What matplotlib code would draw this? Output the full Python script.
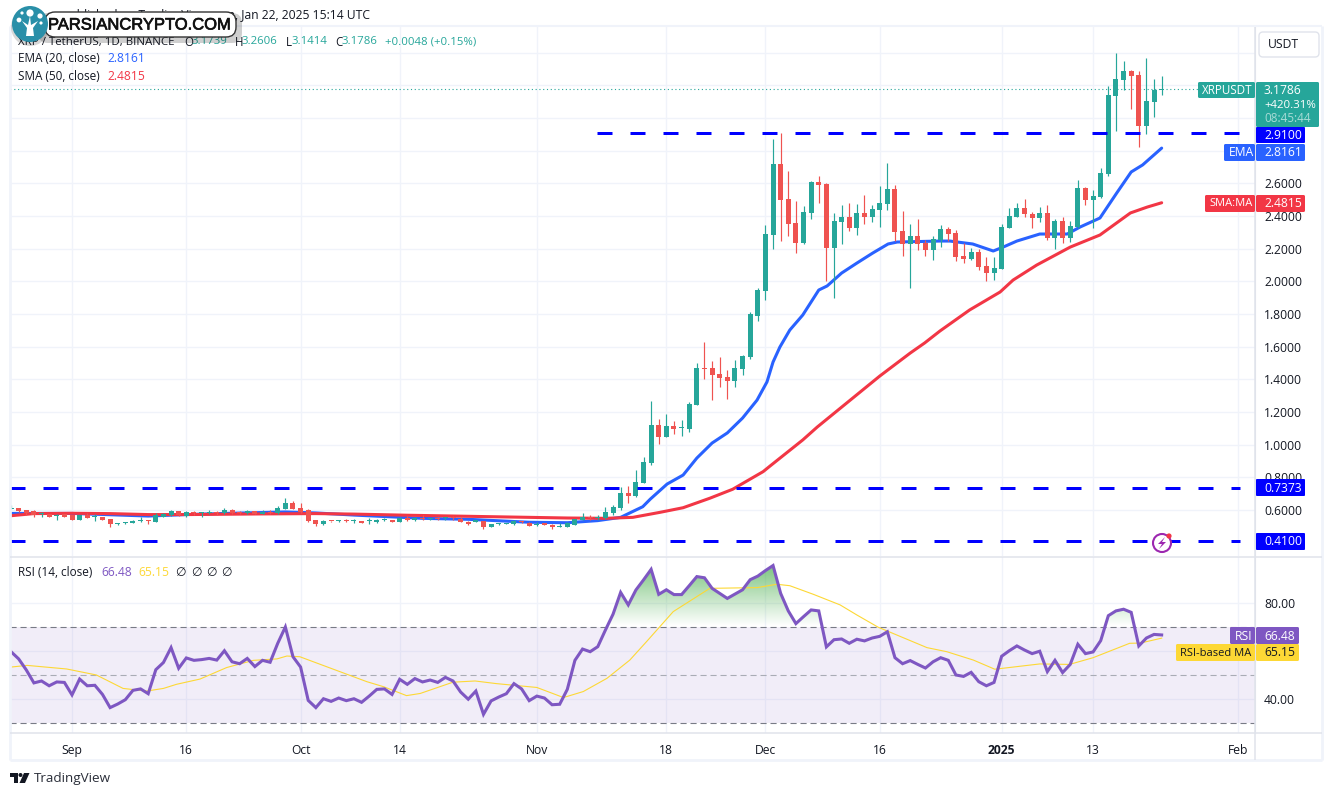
import numpy as np
import matplotlib
matplotlib.use("Agg")
import matplotlib.pyplot as plt
from matplotlib.patches import FancyBboxPatch, Circle, Polygon, Rectangle
from matplotlib.path import Path
import matplotlib.patheffects as pe

plt.rcParams['font.family'] = ['Open Sans', 'DejaVu Sans']

# ---------- data (day index 0 = 1 Sep 2024) ----------
first_day = -8
opens = [.608,.612,.60,.592,.575,.575,.565,.575,
 .567,.539,.567,.555,.56,.543,.514,.518,.52,.532,
 .536,.527,.557,.567,.592,.563,.588,.58,.58,.588,
 .58,.6,.588,.58,.594,.576,.586,.58,.606,.643,
 .612,.60,.539,.517,.532,.530,.532,.530,.532,.530,
 .527,.536,.539,.527,.551,.54,.551,.545,.547,.548,
 .552,.545,.527,.527,.533,.496,.514,.516,.514,.532,
 .52,.51,.514,.508,.498,.496,.508,.54,.557,.55,
 .551,.582,.612,.704,.686,.765,.888,1.12,1.047,1.114,
 1.10,1.096,1.243,1.47,1.47,1.433,1.414,1.39,1.463,1.537,
 1.79,1.94,2.284,2.72,2.505,2.357,2.235,2.419,2.608,2.596,
 2.204,2.363,2.394,2.327,2.419,2.394,2.437,2.474,2.566,2.308,
 2.229,2.278,2.235,2.192,2.253,2.32,2.296,2.155,2.137,2.18,
 2.094,2.051,2.076,2.327,2.394,2.449,2.412,2.388,2.419,2.265,
 2.37,2.265,2.333,2.571,2.498,2.517,2.658,3.135,3.233,3.288,
 3.264,2.951,3.098,3.1739]
closes = [.612,.592,.58,.567,.578,.555,.568,.56,
 .539,.567,.551,.558,.539,.514,.518,.522,.533,.536,
 .53,.57,.575,.592,.567,.588,.58,.584,.588,.58,
 .60,.58,.58,.594,.576,.588,.58,.61,.643,.606,
 .588,.533,.514,.535,.530,.532,.530,.533,.522,.532,
 .539,.539,.527,.551,.539,.551,.545,.547,.545,.551,
 .55,.527,.516,.539,.496,.514,.516,.52,.532,.526,
 .502,.514,.511,.496,.502,.52,.545,.558,.55,.553,
 .588,.618,.704,.686,.771,.894,1.12,1.047,1.114,1.096,
 1.106,1.25,1.47,1.463,1.426,1.408,1.39,1.47,1.543,1.80,
 1.947,2.29,2.719,2.498,2.351,2.235,2.425,2.608,2.59,2.204,
 2.37,2.394,2.327,2.419,2.394,2.443,2.48,2.566,2.302,2.229,
 2.278,2.229,2.192,2.259,2.32,2.29,2.149,2.137,2.18,2.088,
 2.051,2.082,2.333,2.40,2.449,2.412,2.388,2.419,2.265,2.37,
 2.265,2.339,2.571,2.498,2.523,2.664,3.141,3.239,3.288,3.258,
 2.951,3.105,3.172,3.1786]
highs = [.632,.612,.60,.60,.59,.575,.578,.578,
 .57,.57,.58,.575,.56,.543,.52,.525,.54,.56,
 .537,.582,.58,.60,.593,.595,.595,.59,.60,.593,
 .615,.605,.595,.597,.596,.60,.60,.622,.675,.655,
 .64,.605,.54,.539,.533,.54,.545,.545,.532,.55,
 .545,.548,.54,.56,.565,.56,.57,.552,.558,.558,
 .565,.558,.53,.54,.533,.514,.52,.523,.537,.533,
 .526,.526,.52,.512,.52,.525,.546,.58,.57,.57,
 .618,.63,.741,.747,.845,.924,1.267,1.157,1.188,1.145,
 1.151,1.262,1.50,1.629,1.512,1.537,1.457,1.518,1.55,1.812,
 1.96,2.345,2.872,2.91,2.676,2.492,2.461,2.615,2.645,2.602,
 2.419,2.468,2.48,2.474,2.529,2.468,2.584,2.725,2.59,2.431,
 2.351,2.382,2.253,2.278,2.345,2.333,2.314,2.235,2.204,2.198,
 2.149,2.149,2.351,2.449,2.48,2.505,2.425,2.455,2.468,2.38,
 2.394,2.37,2.62,2.578,2.559,2.694,3.196,3.398,3.349,3.294,
 3.288,3.368,3.239,3.2606]
lows = [.605,.59,.57,.555,.56,.555,.54,.558,
 .539,.538,.55,.53,.538,.498,.51,.515,.518,.528,
 .515,.525,.555,.565,.566,.56,.57,.56,.575,.57,
 .578,.575,.575,.578,.575,.575,.575,.578,.605,.605,
 .58,.525,.50,.508,.529,.524,.527,.52,.52,.515,
 .522,.53,.525,.525,.533,.535,.54,.54,.54,.54,
 .54,.527,.506,.525,.484,.496,.51,.514,.51,.52,
 .50,.50,.508,.485,.495,.495,.507,.538,.54,.54,
 .545,.57,.60,.643,.68,.765,.876,1.004,1.047,1.065,
 1.053,1.078,1.243,1.402,1.273,1.353,1.28,1.353,1.426,1.525,
 1.76,1.886,2.198,2.247,2.278,2.174,2.229,2.382,2.48,2.0,
 1.898,2.229,2.308,2.284,2.351,2.363,2.333,2.437,2.247,2.155,
 1.959,2.192,2.155,2.131,2.21,2.247,2.125,2.112,2.131,2.07,
 2.0,2.008,2.076,2.327,2.394,2.394,2.327,2.363,2.253,2.198,
 2.235,2.241,2.327,2.468,2.327,2.511,2.645,2.921,3.172,3.055,
 2.822,2.902,3.006,3.1414]

ema_days = [-8,0,10,15,20,28,32,37,46,52,60,65,69,72,74,74.9,75.9,78.1,80.2,82,84,86,88,89.9,91.2,92,92.9,94.2,95.9,98,99.1,101,103,105.1,107.1,108.3,113.9,115.2,118.2,120.9,122.2,124,127,130.6,132.3,134.9,137.1,139,140.5,143]
ema_vals = [.579,.579,.563,.572,.579,.588,.582,.569,.549,.543,.525,.522,.535,.555,.60,.62,.667,.759,.814,.918,1.01,1.072,1.163,1.273,1.384,1.506,1.598,1.702,1.794,1.947,1.972,2.051,2.112,2.174,2.229,2.241,2.247,2.247,2.229,2.186,2.21,2.247,2.29,2.29,2.333,2.388,2.541,2.67,2.713,2.8161]
sma_days = [-8,-5,0,5,10,15,25,32,37,44,55,65,70,73.6,77.2,80.2,83.7,86.7,90.7,91.6,95.9,97.8,99.9,106,110,111.9,113.9,117.8,121.8,123.5,126.6,131,134.9,138.9,141.1,143]
sma_vals = [.565,.578,.58,.578,.572,.572,.576,.578,.575,.568,.559,.551,.549,.555,.586,.614,.672,.727,.835,.869,1.029,1.108,1.188,1.42,1.561,1.623,1.696,1.825,1.935,2.008,2.10,2.21,2.284,2.419,2.455,2.4815]

rsi_vals = [59.5,56.5,51.9,46.5,47.3,45.3,46.9,46.7,
 41.5,48.1,45.3,45.5,41.7,36.2,37.7,39.5,43.4,44,
 42,52,55,61.2,52.6,56.9,55.9,56.2,56.7,56,
 59.9,55.3,54.5,56.7,53.3,55.9,55.1,63,69.8,57.4,
 53.1,39.2,36.2,39.9,38.8,40.2,39.1,39.9,38.4,41,
 43.8,44,41.7,48,45.9,48.3,46.9,47.7,46.7,48.8,
 47.3,42.7,39.7,43.1,33.4,39,40.6,42,46.2,44,
 39.1,41,40.2,37.4,37.6,43.8,55.9,60.6,59.5,61.6,
 68.5,75.1,84.2,79,85.2,89.4,93.8,83.4,85.3,83.3,
 83.3,87,90.8,90.3,85.9,83.8,81.7,83.5,85.3,89.5,
 91,93.3,95.4,83.8,76.5,71.2,74.1,76.9,76.5,61.5,
 64.5,64.8,63,64.7,64,65.2,65.9,67.8,57,54.5,
 55.8,54.2,52.7,55.3,57,55.9,49.8,49.2,50.9,47,
 45.3,46.7,57.6,59.9,61.9,60.2,58.7,59.7,51.2,55.9,
 50.8,54.2,62.6,58.7,59.4,64.1,74.5,76.5,77.2,75.9,
 61.9,65.2,66.7,66.48]
rsima_days = [-8,-5.9,-.7,3.2,6.7,9.8,12,13.7,16.8,20.3,23.8,26.9,28.2,29.9,34.3,38.7,40.9,43.9,45.7,50,52.9,55.7,61,64.5,67.1,70.2,73.2,75.4,78.9,83.7,89.9,92.5,94.2,97.3,100.8,103,105.8,112.2,114.8,118.3,121.1,127,130.9,134,138.8,140.2,143]
rsima_vals = [53.1,53.8,52.3,49.8,44.2,43.1,44.2,45.9,48.1,52.9,55.9,56.5,57.7,57.4,52.2,47,44.9,41.2,42.1,46.8,47.3,46.2,44.6,40.4,42.9,48.4,56,63.7,76.2,85.9,86.2,87.6,87,83.4,79,74.8,69.7,61.2,59.5,56,52.2,54.4,54.2,57,63,63.1,65.15]

level_top = 2.91
level_mid = 0.7373
level_low = 0.41
last_price = 3.1786
price_ticks = [0.6,0.8,1.0,1.2,1.4,1.6,1.8,2.0,2.2,2.4,2.6,2.8,3.0,3.2,3.4]
price_labels = ['0.6000','0.8000','1.0000','1.2000','1.4000','1.6000','1.8000','2.0000','2.2000','2.4000','2.6000','','','','']
rsi_ticks = [40,60,80]
rsi_labels = ['40.00','','80.00']
time_days = [0,15,30,43,61,78,91,106,122,134,153]
time_labels = ['Sep','16','Oct','14','Nov','18','Dec','16','2025','13','Feb']

# ---------- layout ----------
W, H = 1333, 796
GREEN, RED = '#26a69a', '#ef5350'
BLUE, SMA_RED = '#2962ff', '#f23645'
PURPLE, YELLOW = '#7e57c2', '#fdd835'
GRID, BORDER, TXT = '#f0f3fa', '#e0e3eb', '#131722'
fig = plt.figure(figsize=(W/100, H/100), dpi=100, facecolor='white')

def add_px(x0, y0, x1, y1, **kw):
    return fig.add_axes([x0/W, 1-y1/H, (x1-x0)/W, (y1-y0)/H], **kw)

ax = add_px(10, 27, 1255, 556)
rx = add_px(10, 557, 1255, 733)
XL = ((10-72)/7.62, (1255-72)/7.62)
days = np.arange(first_day, first_day+len(opens))
o, c, h, l = map(np.array, (opens, closes, highs, lows))

for a in (ax, rx):
    a.set_xlim(*XL)
    a.set_xticks(time_days)
    a.grid(True, color=GRID, lw=1.0)
    a.set_axisbelow(True)
    for s in a.spines.values():
        s.set_visible(False)
    a.spines['right'].set_visible(True)
    a.spines['right'].set_color(BORDER)
    a.yaxis.tick_right()
    a.tick_params(length=0, labelsize=8.7, labelcolor=TXT, pad=6.5)

# price pane
ax.set_ylim(.6+(510-556)/163.3, .6+(510-27)/163.3)
ax.set_yticks(price_ticks)
ax.set_yticklabels(price_labels)
ax.tick_params(axis='x', labelbottom=False)
ax.plot(ema_days, ema_vals, color=BLUE, lw=2.2, zorder=2, solid_capstyle='round')
ax.plot(sma_days, sma_vals, color=SMA_RED, lw=2.2, zorder=2, solid_capstyle='round')
colors = [GREEN if b >= a_ else RED for a_, b in zip(o, c)]
ax.vlines(days, l, h, colors=colors, lw=0.85, zorder=3)
ax.bar(days, np.maximum(np.abs(c-o), 0.0065), bottom=np.minimum(o, c), width=5/7.62,
       color=colors, lw=0, zorder=3)
ax.plot([XL[0], (1198-72)/7.62], [last_price]*2, color=GREEN, lw=0.8, dashes=(1, 2.4), zorder=1.5)
dash_end = (1240-72)/7.62
for lev, start in ((level_top, (597-72)/7.62), (level_mid, XL[0]), (level_low, XL[0])):
    ax.plot([start, dash_end], [lev, lev], color='#0000ff', lw=2.16, dashes=(5, 6),
            dash_capstyle='butt', zorder=4)

# RSI pane
rx.set_ylim(80-(733-602.5)/2.4, 80+(602.5-557)/2.4)
rx.set_yticks(rsi_ticks)
rx.set_yticklabels(rsi_labels)
rx.set_xticklabels(time_labels)
rx.tick_params(axis='x', pad=8)
for t in rx.get_xticklabels():
    if t.get_text() == '2025':
        t.set_fontweight('bold')
rx.axhspan(30, 70, color=PURPLE, alpha=0.1, lw=0, zorder=1)
for v, col in ((70, '#787b86'), (30, '#787b86'), (50, '#a9acb5')):
    rx.plot(XL, [v, v], color=col, lw=0.8, dashes=(5.5, 3.5), zorder=1.5)
rsi = np.array(rsi_vals)
poly = rx.fill_between(days, 70, rsi, where=rsi > 70, interpolate=True, facecolor='none', lw=0)
grad = np.zeros((256, 1, 4))
grad[..., :3] = matplotlib.colors.to_rgb('#4caf50')
grad[..., 3] = np.linspace(0, 0.75, 256)[:, None]
im = rx.imshow(grad, extent=[XL[0], XL[1], 70, 96], origin='lower', aspect='auto', zorder=1.8)
im.set_clip_path(Path.make_compound_path(*poly.get_paths()), rx.transData)
rx.set_xlim(*XL)
rx.set_ylim(80-(733-602.5)/2.4, 80+(602.5-557)/2.4)
rx.plot(rsima_days, rsima_vals, color=YELLOW, lw=0.8, zorder=2)
rx.plot(days, rsi, color=PURPLE, lw=2.2, zorder=3, solid_joinstyle='miter')

# ---------- overlay in pixel coordinates ----------
ov = fig.add_axes([0, 0, 1, 1], zorder=10)
ov.set_xlim(0, W); ov.set_ylim(H, 0); ov.axis('off'); ov.patch.set_alpha(0)

# frame
for x0, y0, x1, y1, col, lw in ((10, 26, 1322, 26, GRID, 1.5), (1322, 26, 1322, 760, GRID, 2),
                                (10, 26, 10, 760, GRID, 2), (10, 760, 1322, 760, GRID, 2),
                                (10, 556.5, 1322, 556.5, BORDER, 1.1), (10, 733, 1322, 733, BORDER, 1.1),
                                (1255, 27, 1255, 760, BORDER, 1.1)):
    ov.plot([x0, x1], [y0, y1], color=col, lw=lw, solid_capstyle='butt')

def txt(x, y, s, color=TXT, size=8.7, **kw):
    kw.setdefault('va', 'center')
    kw.setdefault('ha', 'left')
    return ov.text(x, y, s, color=color, fontsize=size, **kw)

def tag(x0, y0, x1, y1, col, r=1.5):
    ov.add_patch(FancyBboxPatch((x0+r, y0+r), x1-x0-2*r, y1-y0-2*r,
                                boxstyle=f'round,pad={r},rounding_size={r}', fc=col, ec='none', zorder=5))

# header and legend
txt(370, 15, 'published on TradingView.com, Jan 22, 2025 15:14 UTC', ha='right')
txt(18, 42, 'XRP / TetherUS, 1D, BINANCE', size=8.25)
for x, s in ((184, 'O'), (235, 'H'), (286, 'L'), (335, 'C')):
    txt(x, 42, s, size=8.3)
for x, s in ((191, '3.1739'), (242, '3.2606'), (292, '3.1414'), (342, '3.1786'), (385, '+0.0048 (+0.15%)')):
    txt(x, 42, s, color=GREEN, size=8.2)
txt(18, 59, 'EMA (20, close)', size=8.5)
txt(107, 59, '2.8161', color=BLUE)
txt(18, 76, 'SMA (50, close)', size=8.5)
txt(107, 76, '2.4815', color=SMA_RED)
txt(18, 572, 'RSI (14, close)', size=8.5)
txt(101, 572, '66.48', color=PURPLE)
txt(138, 572, '65.15', color=YELLOW)
for x in (175, 191, 206, 221):
    txt(x, 572, '∅')

# USDT box
ov.add_patch(FancyBboxPatch((1262, 35), 54, 19, boxstyle='round,pad=3,rounding_size=4', fc='white', ec=BORDER, lw=1))
txt(1268, 44.5, 'USDT')

# price tags
tag(1198, 82, 1255, 98, GREEN)
txt(1202, 90.5, 'XRPUSDT', color='white', zorder=6, size=8.4)
tag(1256, 82, 1319, 127, GREEN)
txt(1264, 90.5, '3.1786', color='white', zorder=6)
txt(1264, 105, '+420.31%', color='white', zorder=6, size=8.2)
txt(1264, 119, '08:45:44', color='#a8dbd6', zorder=6, size=8.4)
tag(1256, 127, 1305, 143, '#0000ff', r=1)
txt(1264, 135.5, '2.9100', color='white', zorder=6)
tag(1224, 144, 1255, 161, BLUE)
txt(1229, 153, 'EMA', color='white', zorder=6)
tag(1256, 144, 1305, 161, BLUE)
txt(1264, 153, '2.8161', color='white', zorder=6)
tag(1205, 195, 1255, 212, SMA_RED)
txt(1209, 203.5, 'SMA:MA', color='white', zorder=6, size=8.0)
tag(1256, 195, 1305, 212, SMA_RED)
txt(1264, 203.5, '2.4815', color='white', zorder=6)
tag(1256, 479, 1305, 496, '#0000ff', r=1)
txt(1264, 488, '0.7373', color='white', zorder=6)
tag(1256, 533, 1305, 550, '#0000ff', r=1)
txt(1264, 541.5, '0.4100', color='white', zorder=6)
tag(1230, 627, 1255, 644, PURPLE)
txt(1235, 636, 'RSI', color='white', zorder=6)
tag(1256, 627, 1299, 644, PURPLE)
txt(1264, 636, '66.48', color='white', zorder=6)
tag(1176, 644, 1255, 661, YELLOW)
txt(1180, 653, 'RSI-based MA', zorder=6, size=8.0)
tag(1256, 644, 1299, 661, YELLOW)
txt(1264, 653, '65.15', zorder=6)

# event icon
ov.add_patch(Circle((1162, 543), 9, fc='white', ec='#9c27b0', lw=1.5, zorder=5))
ov.add_patch(Polygon([(1165, 537), (1158, 544), (1162, 544), (1159, 549), (1166, 542), (1162, 542)],
                     fc='#9c27b0', ec='none', zorder=6))
ov.add_patch(Circle((1169, 536), 2.6, fc='#f23645', ec='none', zorder=7))

# watermark pill
ov.add_patch(FancyBboxPatch((40, 15), 200, 26, boxstyle='round,pad=2,rounding_size=10',
                            fc='#00000030', ec='none', zorder=7))
ov.add_patch(FancyBboxPatch((45, 12), 191, 25, boxstyle='round,pad=0,rounding_size=10',
                            fc='white', ec='#333333', lw=1, zorder=8))
ov.add_patch(Circle((30, 27), 19, fc='#00000028', ec='none', zorder=7))
ov.add_patch(Circle((30, 24), 18, fc='#2a8fa8', ec='none', zorder=9))
ov.add_patch(Polygon([(26, 36), (34, 36), (33, 28), (38, 21), (31, 25), (30, 16), (28, 25), (22, 21), (27, 28)],
                     fc='white', ec='none', zorder=10))
for cx, cy, r in ((30, 13, 3.6), (19, 20, 2.4), (40, 16, 2.6), (22, 13, 1.6), (41, 23, 1.6)):
    ov.add_patch(Circle((cx, cy), r, fc='white', ec='none', zorder=10))
ov.text(48, 25, 'PARSIANCRYPTO.COM', fontsize=11.9, family='Liberation Sans', color='#111111',
        va='center', ha='left', zorder=11,
        path_effects=[pe.withStroke(linewidth=0.5, foreground='#111111')])

# TradingView mark
ov.add_patch(Rectangle((10, 773), 8, 4, fc='#131722', ec='none'))
ov.add_patch(Rectangle((14, 773), 4, 10, fc='#131722', ec='none'))
ov.add_patch(Circle((20.5, 775), 2, fc='#131722', ec='none'))
ov.add_patch(Polygon([(24, 773), (29.5, 773), (25, 783), (19.5, 783)], fc='#131722', ec='none'))
txt(34, 778.5, 'TradingView', size=9.7, color='#2a2e39')

fig.savefig('out.png', dpi=100, facecolor='white')
